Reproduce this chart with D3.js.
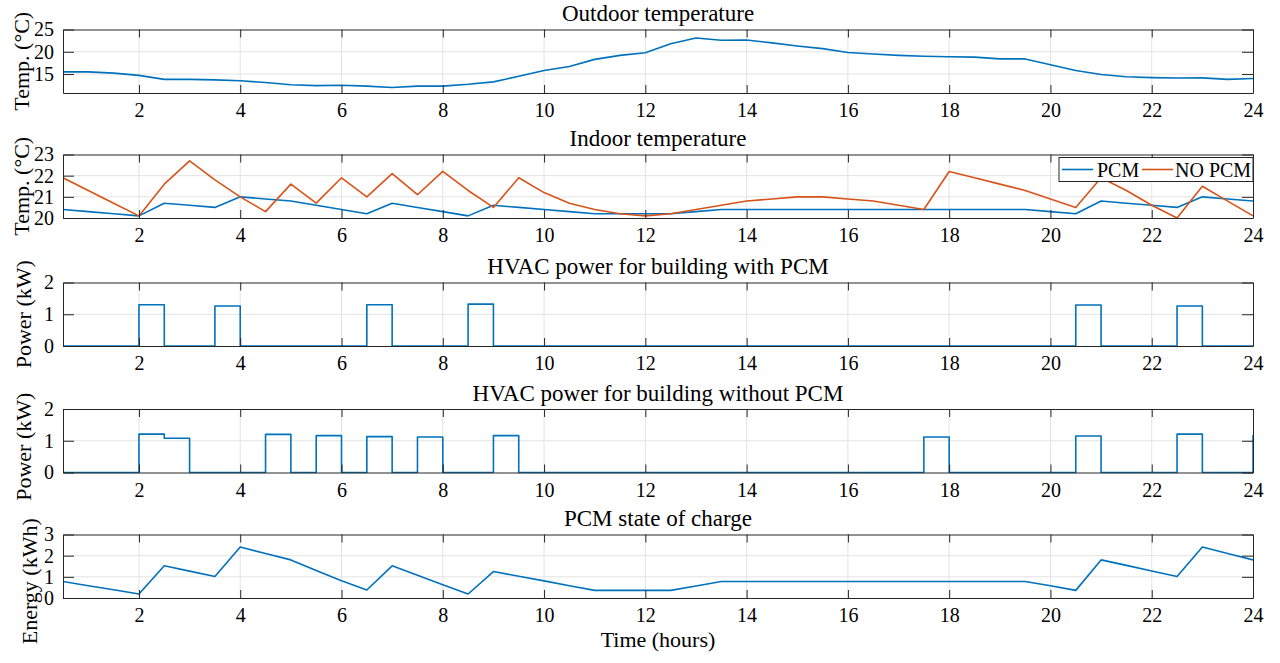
<!DOCTYPE html>
<html>
<head>
<meta charset="utf-8">
<script src="https://cdn.jsdelivr.net/npm/d3@7"></script>
<style>
  html, body { margin: 0; padding: 0; background: #fff; }
  svg { display: block; }
  svg text { font-family: "Liberation Serif", "Times New Roman", serif; }
</style>
</head>
<body>
<svg id="chart" width="1280" height="663"></svg>
<script>
// ---------------- data ----------------
const hours = [
  0.5, 1, 1.5, 2, 2.5, 3, 3.5, 4,
  4.5, 5, 5.5, 6, 6.5, 7, 7.5, 8,
  8.5, 9, 9.5, 10, 10.5, 11, 11.5, 12,
  12.5, 13, 13.5, 14, 14.5, 15, 15.5, 16,
  16.5, 17, 17.5, 18, 18.5, 19, 19.5, 20,
  20.5, 21, 21.5, 22, 22.5, 23, 23.5, 24
];
const outdoorTemp = [
  15.5, 15.5, 15.2, 14.7, 13.8, 13.8, 13.7, 13.5,
  13.1, 12.6, 12.4, 12.5, 12.3, 12.0, 12.3, 12.3,
  12.7, 13.25, 14.5, 15.8, 16.7, 18.3, 19.2, 19.8,
  21.8, 23.1, 22.6, 22.65, 22.0, 21.3, 20.7, 19.85,
  19.5, 19.2, 19.0, 18.9, 18.8, 18.4, 18.4, 17.1,
  15.8, 14.9, 14.4, 14.2, 14.1, 14.15, 13.8, 14.0
];
const indoorPCM = [
  20.4, 20.3, 20.2, 20.1, 20.7, 20.6, 20.5, 21.0,
  20.9, 20.8, 20.6, 20.4, 20.2, 20.7, 20.5, 20.3,
  20.1, 20.6, 20.5, 20.4, 20.3, 20.2, 20.2, 20.2,
  20.2, 20.3, 20.4, 20.4, 20.4, 20.4, 20.4, 20.4,
  20.4, 20.4, 20.4, 20.4, 20.4, 20.4, 20.4, 20.3,
  20.2, 20.8, 20.7, 20.6, 20.5, 21.0, 20.9, 20.8
];
const indoorNoPCM = [
  21.9, 21.3, 20.7, 20.1, 21.6, 22.7, 21.8, 21.0,
  20.3, 21.6, 20.7, 21.9, 21.0, 22.1, 21.1, 22.2,
  21.3, 20.5, 21.9, 21.2, 20.7, 20.4, 20.2, 20.1,
  20.2, 20.4, 20.6, 20.8, 20.9, 21.0, 21.0, 20.9,
  20.8, 20.6, 20.4, 22.2, 21.9, 21.6, 21.3, 20.9,
  20.5, 21.9, 21.3, 20.6, 20.0, 21.5, 20.8, 20.1
];
const hvacPCM = [
  0, 0, 0, 1.30, 0, 0, 1.26, 0,
  0, 0, 0, 0, 1.30, 0, 0, 0,
  1.32, 0, 0, 0, 0, 0, 0, 0,
  0, 0, 0, 0, 0, 0, 0, 0,
  0, 0, 0, 0, 0, 0, 0, 0,
  1.29, 0, 0, 0, 1.26, 0, 0, 0
];
const hvacNoPCM = [
  0, 0, 0, 1.21, 1.08, 0, 0, 0,
  1.20, 0, 1.16, 0, 1.13, 0, 1.12, 0,
  0, 1.16, 0, 0, 0, 0, 0, 0,
  0, 0, 0, 0, 0, 0, 0, 0,
  0, 0, 1.12, 0, 0, 0, 0, 0,
  1.15, 0, 0, 0, 1.21, 0, 0, 1.18
];
const pcmSOC = [
  0.78, 0.58, 0.39, 0.19, 1.52, 1.27, 1.02, 2.41,
  2.10, 1.80, 1.30, 0.81, 0.38, 1.52, 1.08, 0.63,
  0.19, 1.25, 1.03, 0.81, 0.58, 0.36, 0.36, 0.36,
  0.36, 0.57, 0.78, 0.78, 0.78, 0.78, 0.78, 0.78,
  0.78, 0.78, 0.78, 0.78, 0.78, 0.78, 0.78, 0.58,
  0.36, 1.80, 1.54, 1.28, 1.02, 2.41, 2.10, 1.80
];
const xTicks = [2, 4, 6, 8, 10, 12, 14, 16, 18, 20, 22, 24];
const xDomain = [0.5, 24];

const titles = [
  "Outdoor temperature",
  "Indoor temperature",
  "HVAC power for building with PCM",
  "HVAC power for building without PCM",
  "PCM state of charge"
];
const yLabels = ["Temp. (\u00B0C)", "Temp. (\u00B0C)", "Power (kW)", "Power (kW)", "Energy (kWh)"];
const yTicksList = [[15, 20, 25], [20, 21, 22, 23], [0, 1, 2], [0, 1, 2], [0, 1, 2, 3]];
const yDomains = [[10.75, 25], [20, 23], [0, 2], [0, 2], [0, 3]];
const legendLabels = ["PCM", "NO PCM"];
const xLabel = "Time (hours)";

// ---------------- layout / style ----------------
const BLUE = "#0072BD", ORANGE = "#D95319";
const FONT = "'Liberation Serif', 'Times New Roman', serif";
const left = 63, right = 1253;
const panelTops = [29.5, 154.5, 282.5, 409, 534.5];
const panelH = 63.5;
const yLabelX = [29, 29, 31, 31, 37];
const yLabelShift = [0, 0, 0, 6, 15];

const panels = [
  { series: [{ v: outdoorTemp, c: BLUE }], step: false },
  { series: [{ v: indoorPCM, c: BLUE }, { v: indoorNoPCM, c: ORANGE }], step: false, legend: true },
  { series: [{ v: hvacPCM, c: BLUE }], step: true },
  { series: [{ v: hvacNoPCM, c: BLUE }], step: true },
  { series: [{ v: pcmSOC, c: BLUE }], step: false }
];

const svg = d3.select("#chart");
const x = d3.scaleLinear().domain(xDomain).range([left, right]);

panels.forEach((p, i) => {
  const top = panelTops[i], bottom = top + panelH;
  const y = d3.scaleLinear().domain(yDomains[i]).range([bottom, top]);
  const g = svg.append("g");

  const cid = "clip" + i;
  svg.append("defs").append("clipPath").attr("id", cid)
    .append("rect").attr("x", left).attr("y", top - 1).attr("width", right - left).attr("height", panelH + 2);

  // grid
  g.append("g").selectAll("line").data(xTicks.filter(t => t < xDomain[1])).join("line")
    .attr("x1", d => x(d)).attr("x2", d => x(d)).attr("y1", top).attr("y2", bottom)
    .attr("stroke", "#e3e3e3").attr("stroke-width", 1);
  g.append("g").selectAll("line").data(yTicksList[i].filter(t => t > yDomains[i][0] && t < yDomains[i][1])).join("line")
    .attr("x1", left).attr("x2", right).attr("y1", d => y(d)).attr("y2", d => y(d))
    .attr("stroke", "#e3e3e3").attr("stroke-width", 1);

  // lines
  const line = d3.line().x((d, k) => x(hours[k])).y(d => y(d))
    .curve(p.step ? d3.curveStepAfter : d3.curveLinear);
  const lg = g.append("g").attr("clip-path", `url(#${cid})`);
  p.series.forEach(s => {
    lg.append("path").datum(s.v).attr("d", line)
      .attr("fill", "none").attr("stroke", s.c).attr("stroke-width", 1.6)
      .attr("stroke-linejoin", "round");
  });

  // axes
  const axColor = "#262626";
  const fmt = d3.format("d");
  const xb = d3.axisBottom(x).tickValues(xTicks).tickFormat(fmt).tickSizeInner(-8).tickSizeOuter(0).tickPadding(10);
  const xt = d3.axisTop(x).tickValues(xTicks).tickSizeInner(-8).tickSizeOuter(0).tickFormat("");
  const yl = d3.axisLeft(y).tickValues(yTicksList[i]).tickFormat(fmt).tickSizeInner(-11).tickSizeOuter(0).tickPadding(9);
  const yr = d3.axisRight(y).tickValues(yTicksList[i]).tickSizeInner(-11).tickSizeOuter(0).tickFormat("");

  const gxb = g.append("g").attr("transform", `translate(0,${bottom})`).call(xb);
  const gxt = g.append("g").attr("transform", `translate(0,${top})`).call(xt);
  const gyl = g.append("g").attr("transform", `translate(${left},0)`).call(yl);
  const gyr = g.append("g").attr("transform", `translate(${right},0)`).call(yr);
  [gxb, gxt, gyl, gyr].forEach(a => {
    a.attr("font-family", FONT).attr("font-size", 20);
    a.select(".domain").attr("stroke", axColor).attr("stroke-width", 1);
    a.selectAll(".tick line").attr("stroke", axColor).attr("stroke-width", 1);
    a.selectAll(".tick text").attr("fill", "#000");
  });

  // title
  svg.append("text").attr("x", (left + right) / 2).attr("y", top - 8.5)
    .attr("text-anchor", "middle").attr("font-size", 23).attr("fill", "#000")
    .text(titles[i]);

  // y label
  const cy = (top + bottom) / 2 + yLabelShift[i];
  svg.append("text").attr("transform", `translate(${yLabelX[i]},${cy}) rotate(-90)`)
    .attr("text-anchor", "middle").attr("font-size", 22).attr("fill", "#000")
    .text(yLabels[i]);

  // legend
  if (p.legend) {
    const lx0 = 1059, ly0 = top + 3, lw = 194, lh = 24;
    const leg = svg.append("g");
    leg.append("rect").attr("x", lx0).attr("y", ly0).attr("width", lw).attr("height", lh)
      .attr("fill", "#fff").attr("stroke", "#262626").attr("stroke-width", 1);
    const items = [
      { label: legendLabels[0], c: BLUE, x0: lx0 + 3, x1: lx0 + 34, tx: lx0 + 38 },
      { label: legendLabels[1], c: ORANGE, x0: lx0 + 83, x1: lx0 + 114, tx: lx0 + 116 }
    ];
    items.forEach(it => {
      leg.append("line").attr("x1", it.x0).attr("x2", it.x1)
        .attr("y1", ly0 + lh / 2).attr("y2", ly0 + lh / 2)
        .attr("stroke", it.c).attr("stroke-width", 1.6);
      leg.append("text").attr("x", it.tx).attr("y", ly0 + lh / 2).attr("dy", "0.35em")
        .attr("font-size", 20).attr("fill", "#000").text(it.label);
    });
  }
});

svg.append("text").attr("x", (left + right) / 2).attr("y", 647)
  .attr("text-anchor", "middle").attr("font-size", 22).attr("fill", "#000")
  .text(xLabel);
</script>
</body>
</html>
